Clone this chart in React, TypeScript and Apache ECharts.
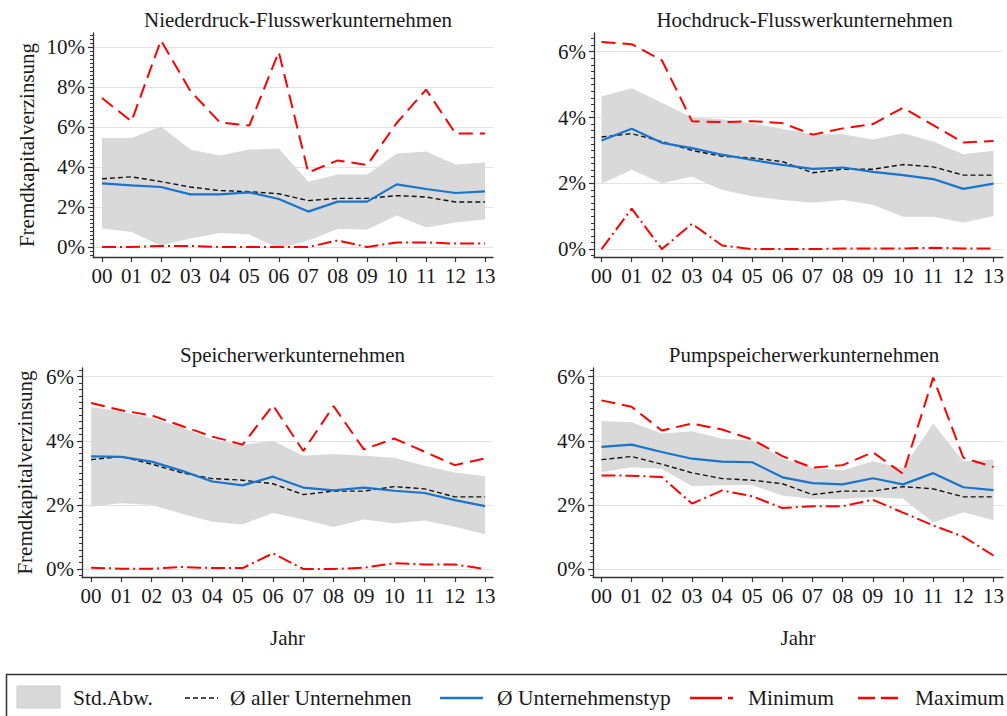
import React, { useEffect, useRef } from "react";
import * as echarts from "echarts";

// ---------- data (values in %) ----------
const years = ["00", "01", "02", "03", "04", "05", "06", "07", "08", "09", "10", "11", "12", "13"];

const allAvg = [3.41, 3.51, 3.27, 3.0, 2.82, 2.77, 2.66, 2.32, 2.43, 2.43, 2.57, 2.5, 2.25, 2.25];

// Niederdruck-Flusswerkunternehmen
const ndType = [3.18, 3.08, 3.0, 2.63, 2.63, 2.73, 2.4, 1.77, 2.27, 2.27, 3.13, 2.9, 2.7, 2.78];
const ndSdLow = [0.93, 0.75, 0.08, 0.43, 0.7, 0.62, -0.07, 0.33, 0.9, 0.87, 1.57, 0.98, 1.23, 1.37];
const ndSdHigh = [5.45, 5.45, 6.03, 4.87, 4.57, 4.87, 4.93, 3.28, 3.62, 3.62, 4.67, 4.77, 4.13, 4.22];
const ndMin = [0, 0, 0.05, 0.05, 0, 0, 0, 0, 0.33, 0, 0.23, 0.23, 0.17, 0.17];
const ndMax = [7.45, 6.28, 10.33, 7.8, 6.23, 6.07, 9.75, 3.73, 4.33, 4.1, 6.2, 7.87, 5.67, 5.67];

// Hochdruck-Flusswerkunternehmen
const hdType = [3.3, 3.66, 3.23, 3.07, 2.87, 2.71, 2.56, 2.44, 2.48, 2.35, 2.25, 2.13, 1.83, 1.99];
const hdSdLow = [1.99, 2.41, 2.0, 2.2, 1.8, 1.61, 1.49, 1.41, 1.49, 1.35, 0.98, 0.98, 0.81, 1.0];
const hdSdHigh = [4.64, 4.89, 4.45, 4.0, 3.95, 3.82, 3.66, 3.49, 3.49, 3.33, 3.52, 3.27, 2.88, 2.99];
const hdMin = [0, 1.23, 0, 0.77, 0.11, 0, 0, 0, 0.02, 0.02, 0.02, 0.04, 0.02, 0.02];
const hdMax = [6.3, 6.23, 5.74, 3.89, 3.86, 3.89, 3.83, 3.48, 3.67, 3.8, 4.3, 3.77, 3.24, 3.29];

// Speicherwerkunternehmen
const spType = [3.51, 3.5, 3.35, 3.06, 2.73, 2.61, 2.88, 2.54, 2.45, 2.54, 2.44, 2.37, 2.15, 1.96];
const spSdLow = [1.94, 2.05, 2.0, 1.72, 1.47, 1.39, 1.75, 1.54, 1.31, 1.54, 1.42, 1.51, 1.32, 1.08];
const spSdHigh = [5.05, 4.91, 4.7, 4.42, 4.04, 3.87, 4.0, 3.53, 3.59, 3.53, 3.47, 3.22, 3.01, 2.89];
const spMin = [0.04, 0.01, 0.01, 0.06, 0.03, 0.03, 0.49, 0, 0, 0.04, 0.18, 0.14, 0.14, 0];
const spMax = [5.18, 4.95, 4.79, 4.46, 4.13, 3.88, 5.11, 3.68, 5.08, 3.73, 4.07, 3.66, 3.24, 3.45];

// Pumpspeicherwerkunternehmen
const psType = [3.81, 3.88, 3.65, 3.44, 3.35, 3.33, 2.86, 2.68, 2.64, 2.83, 2.64, 2.99, 2.55, 2.46];
const psSdLow = [3.02, 3.17, 3.13, 2.58, 2.61, 2.62, 2.29, 2.18, 2.18, 2.24, 2.19, 1.45, 1.77, 1.52];
const psSdHigh = [4.62, 4.58, 4.23, 4.3, 4.06, 4.01, 3.44, 3.16, 3.08, 3.36, 3.15, 4.54, 3.36, 3.41];
const psMin = [2.92, 2.91, 2.87, 2.04, 2.45, 2.27, 1.9, 1.96, 1.96, 2.16, 1.76, 1.36, 1.01, 0.42];
const psMax = [5.26, 5.06, 4.32, 4.54, 4.35, 4.04, 3.52, 3.16, 3.24, 3.64, 2.97, 5.97, 3.47, 3.18];

const yTicksA = [0, 2, 4, 6, 8, 10];
const yTicksB = [0, 2, 4, 6];

const titles = [
  "Niederdruck-Flusswerkunternehmen",
  "Hochdruck-Flusswerkunternehmen",
  "Speicherwerkunternehmen",
  "Pumpspeicherwerkunternehmen",
];
const yName = "Fremdkapitalverzinsung";
const xName = "Jahr";
const legendLabels = ["Std.Abw.", "Ø aller Unternehmen", "Ø Unternehmenstyp", "Minimum", "Maximum"];

// ---------- layout ----------
const FONT = "'Liberation Serif', 'Times New Roman', serif";
const TXT = "#1a1a1a";
const AX = "#333333";
const RED = "#ff0000";
const BLUE = "#1874cd";
const BAND = "#d9d9d9";

type Panel = {
  title: string;
  type: number[];
  low: number[];
  high: number[];
  min: number[];
  max: number[];
  grid: { left: number; top: number; width: number; height: number };
  xMin: number;
  xMax: number;
  yMin: number;
  yMax: number;
  yTicks: number[];
  yName: boolean;
  yNameGap: number;
  xName: boolean;
};

const panels: Panel[] = [
  {
    title: titles[0], type: ndType, low: ndSdLow, high: ndSdHigh, min: ndMin, max: ndMax,
    grid: { left: 93, top: 33, width: 400, height: 224 },
    xMin: -0.305, xMax: 13.27, yMin: -0.5, yMax: 10.7, yTicks: yTicksA, yName: true, yNameGap: 56, xName: false,
  },
  {
    title: titles[1], type: hdType, low: hdSdLow, high: hdSdHigh, min: hdMin, max: hdMax,
    grid: { left: 594, top: 33, width: 411, height: 224 },
    xMin: -0.25, xMax: 13.31, yMin: -0.24, yMax: 6.57, yTicks: yTicksB, yName: false, yNameGap: 56, xName: false,
  },
  {
    title: titles[2], type: spType, low: spSdLow, high: spSdHigh, min: spMin, max: spMax,
    grid: { left: 82, top: 368, width: 411, height: 209 },
    xMin: -0.3, xMax: 13.26, yMin: -0.25, yMax: 6.27, yTicks: yTicksB, yName: true, yNameGap: 47, xName: true,
  },
  {
    title: titles[3], type: psType, low: psSdLow, high: psSdHigh, min: psMin, max: psMax,
    grid: { left: 593, top: 368, width: 412, height: 209 },
    xMin: -0.28, xMax: 13.32, yMin: -0.25, yMax: 6.27, yTicks: yTicksB, yName: false, yNameGap: 47, xName: true,
  },
];

function minorTicks(lo: number, hi: number): number[] {
  const out: number[] = [];
  for (let k = Math.ceil(lo / 0.2); k * 0.2 <= hi + 1e-9; k++) {
    const v = Math.round(k * 0.2 * 100) / 100;
    if (Math.abs(v / 2 - Math.round(v / 2)) > 1e-6) out.push(v);
  }
  return out;
}

const pts = (arr: number[]) => arr.map((v, k) => [k, v]);

function buildOption() {
  const xIdx = years.map((_, k) => k);
  const grid = panels.map((p) => ({ ...p.grid }));
  const xAxis = panels.map((p, i) => ({
    type: "value",
    gridIndex: i,
    min: p.xMin,
    max: p.xMax,
    axisLine: { onZero: false, lineStyle: { color: AX, width: 1.3 } },
    axisTick: { customValues: xIdx, length: 5, lineStyle: { color: AX, width: 1.2 } },
    axisLabel: {
      customValues: xIdx,
      formatter: (v: number) => years[Math.round(v)] ?? "",
      fontSize: 21,
      fontFamily: FONT,
      color: TXT,
      margin: 8,
    },
    splitLine: { show: false },
    name: p.xName ? xName : "",
    nameLocation: "middle",
    nameGap: 50,
    nameTextStyle: { fontSize: 21, fontFamily: FONT, color: TXT },
  }));
  const yAxis: any[] = [];
  panels.forEach((p, i) => {
    yAxis.push({
      type: "value",
      gridIndex: i,
      position: "left",
      min: p.yMin,
      max: p.yMax,
      axisLine: { show: true, onZero: false, lineStyle: { color: AX, width: 1.3 } },
      axisTick: { show: true, customValues: p.yTicks, length: 5, lineStyle: { color: AX, width: 1.2 } },
      axisLabel: {
        customValues: p.yTicks,
        formatter: (v: number) => `${Math.round(v)}%`,
        fontSize: 21,
        fontFamily: FONT,
        color: TXT,
        margin: 8,
      },
      splitLine: { show: true, lineStyle: { color: "#e3e3e3", width: 1.2 } },
      name: p.yName ? yName : "",
      nameLocation: "middle",
      nameRotate: 90,
      nameGap: p.yNameGap,
      nameTextStyle: { fontSize: 21, fontFamily: FONT, color: TXT },
    });
    yAxis.push({
      type: "value",
      gridIndex: i,
      position: "left",
      min: p.yMin,
      max: p.yMax,
      axisLine: { show: false, onZero: false },
      axisTick: { show: true, customValues: minorTicks(p.yMin, p.yMax), length: 3, lineStyle: { color: AX, width: 1 } },
      axisLabel: { show: false },
      splitLine: { show: false },
    });
  });

  const series: any[] = [];
  panels.forEach((p, i) => {
    const common = { xAxisIndex: i, yAxisIndex: 2 * i, silent: true };
    series.push({
      ...common,
      type: "custom",
      clip: true,
      data: p.low.map((lo, k) => [k, lo, p.high[k]]),
      renderItem: (params: any, api: any) => {
        if (params.dataIndex !== 0) return null;
        const upper = p.high.map((v, k) => api.coord([k, v]));
        const lower = p.low.map((v, k) => api.coord([k, v])).reverse();
        return {
          type: "polygon",
          shape: { points: upper.concat(lower) },
          style: { fill: BAND, stroke: "none" },
        };
      },
      encode: { x: 0, y: [1, 2] },
    });
    series.push({
      ...common,
      type: "line",
      symbol: "none",
      data: pts(allAvg),
      lineStyle: { color: "#111111", width: 1.4, type: [5, 3] },
    });
    series.push({
      ...common,
      type: "line",
      symbol: "none",
      data: pts(p.type),
      lineStyle: { color: BLUE, width: 2.2 },
    });
    series.push({
      ...common,
      type: "line",
      symbol: "none",
      data: pts(p.min),
      lineStyle: { color: RED, width: 2, type: [14, 4, 2, 4] },
    });
    series.push({
      ...common,
      type: "line",
      symbol: "none",
      data: pts(p.max),
      lineStyle: { color: RED, width: 2, type: [14, 7] },
    });
  });

  const title = panels.map((p) => ({
    text: p.title,
    left: p.grid.left + p.grid.width / 2,
    top: p.grid.top - 29,
    textAlign: "center",
    textStyle: { fontSize: 21, fontWeight: "normal", fontFamily: FONT, color: TXT },
  }));

  const ly = 698;
  const txt = (x: number, s: string) => ({
    type: "text",
    x,
    y: ly,
    style: { text: s, fontSize: 21.5, fontFamily: FONT, fill: TXT, textVerticalAlign: "middle", textAlign: "left" },
  });
  const graphic = [
    {
      type: "rect",
      shape: { x: 6.5, y: 674.5, width: 1020, height: 60 },
      style: { fill: "none", stroke: "#333", lineWidth: 1.5 },
    },
    {
      type: "rect",
      shape: { x: 17, y: 686, width: 43, height: 22 },
      style: { fill: BAND, stroke: "#cccccc", lineWidth: 1 },
    },
    txt(73, legendLabels[0]),
    {
      type: "line",
      shape: { x1: 185, y1: ly, x2: 218, y2: ly },
      style: { stroke: "#111", lineWidth: 1.6, lineDash: [5, 3] },
    },
    txt(230, legendLabels[1]),
    {
      type: "line",
      shape: { x1: 440, y1: ly, x2: 483, y2: ly },
      style: { stroke: BLUE, lineWidth: 2.5 },
    },
    txt(497, legendLabels[2]),
    {
      type: "line",
      shape: { x1: 690, y1: ly, x2: 734, y2: ly },
      style: { stroke: RED, lineWidth: 2.5, lineDash: [32, 6, 5, 10] },
    },
    txt(748, legendLabels[3]),
    {
      type: "line",
      shape: { x1: 858, y1: ly, x2: 899, y2: ly },
      style: { stroke: RED, lineWidth: 2.5, lineDash: [17, 6] },
    },
    txt(915, legendLabels[4]),
  ];

  return {
    animation: false,
    backgroundColor: "#ffffff",
    title,
    grid,
    xAxis,
    yAxis,
    series,
    graphic,
  };
}

export default function App() {
  const ref = useRef<HTMLDivElement>(null);
  useEffect(() => {
    if (!ref.current) return;
    const chart = echarts.init(ref.current, undefined, { renderer: "svg" });
    chart.setOption(buildOption() as any);
    return () => chart.dispose();
  }, []);
  return (
    <div
      ref={ref}
      style={{ position: "fixed", left: 0, top: 0, width: 1007, height: 716, background: "#fff" }}
    />
  );
}
